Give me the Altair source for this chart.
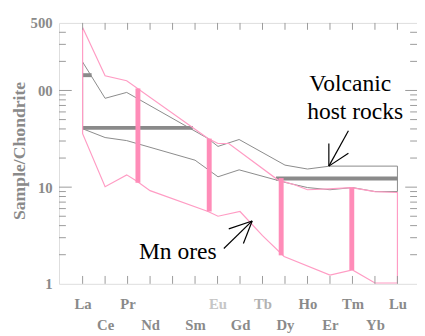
import altair as alt
import pandas as pd

# ---------------- data ----------------
elements = ["La", "Ce", "Pr", "Nd", "Pm", "Sm", "Eu", "Gd", "Tb", "Dy", "Ho", "Er", "Tm", "Yb", "Lu"]
element_pos = list(range(1, 16))
hidden_labels = ["Pm"]

# Mn ores field (upper and lower envelopes)
mn_upper_x = [1, 2, 2.96, 6.58, 7.02, 7.5, 9.68, 10.42, 11, 11.95, 12.95, 14, 15]
mn_upper_v = [447, 142, 126, 31.8, 28.3, 28.3, 11.9, 10.6, 9.4, 9.6, 9.9, 9.0, 8.8]
mn_lower_x = [1, 2, 2.96, 3.4, 4, 6.58, 7.02, 8, 9, 9.96, 12, 13, 14, 15]
mn_lower_v = [35.8, 10.1, 13.4, 11.6, 9.2, 5.6, 5.0, 5.6, 3.15, 1.92, 1.23, 1.39, 1.02, 1.02]

# Volcanic host rocks field
vh_upper_x = [1, 2, 2.96, 6.58, 7.02, 7.96, 10, 11, 12, 15]
vh_upper_v = [197, 83, 95.5, 31.8, 26.4, 31.1, 16.9, 15.4, 16.5, 16.5]
vh_lower_x = [1, 2, 2.96, 6.0, 7.02, 7.96, 10, 11, 12, 13, 14, 15]
vh_lower_v = [40.2, 32.6, 30.3, 19.0, 12.8, 15.1, 11.2, 9.9, 9.4, 9.9, 9.0, 9.0]

# thick grey average segments
thick_x1 = [1, 1, 9.6]
thick_x2 = [1.4, 5.9, 15]
thick_v = [144, 41, 12.3]

# thick pink range bars
bar_x = [3.46, 6.63, 9.83, 12.97]
bar_top = [105, 31.8, 12.4, 9.9]
bar_bottom = [11.1, 5.6, 1.97, 1.39]

# annotations
note_text = ["Volcanic", "host rocks", "Mn ores"]
note_x = [12.9, 13.12, 5.23]
note_v = [97.7, 50.8, 1.79]

# arrows: shaft (tail -> tip) and two head strokes (tip -> end)
arrow_x1 = [12.82, 11.95, 11.95, 7.28, 8.54, 8.54]
arrow_v1 = [38.4, 16.5, 16.5, 2.32, 4.47, 4.47]
arrow_x2 = [11.95, 11.95, 12.82, 8.54, 7.5, 8.15]
arrow_v2 = [16.5, 28.3, 22.4, 4.47, 3.70, 2.61]

y_label_values = [1, 10, 100, 500]
y_minor_ticks = [2, 3, 4, 5, 6, 7, 8, 9, 20, 30, 40, 50, 60, 70, 80, 90, 200, 300, 400]
y_major_ticks = [10, 100]

# ---------------- styling ----------------
W, H = 365, 266
GREY = "#8a8a8a"
FRAME = "#9a9a9a"
PINK = "#ff9cc4"
PINK_BAR = "#ff8cb8"
SERIF = "'Liberation Serif', 'DejaVu Serif', serif"

xscale = alt.Scale(domain=[-0.05, 15.87], nice=False, zero=False)
yscale = alt.Scale(type="log", domain=[1, 500], nice=False)


def polygon(ux, uv, lx, lv):
    xs = list(ux) + list(reversed(lx)) + [ux[0]]
    vs = list(uv) + list(reversed(lv)) + [uv[0]]
    return pd.DataFrame({"x": xs, "v": vs, "o": list(range(len(xs)))})


mn_df = polygon(mn_upper_x, mn_upper_v, mn_lower_x, mn_lower_v)
vh_df = polygon(vh_upper_x, vh_upper_v, vh_lower_x, vh_lower_v)

names_js = "[''," + ",".join(
    "''" if e in hidden_labels else f"'{e}'" for e in elements) + "]"
label_expr = (f"datum.value % 2 == 1 ? {names_js}[datum.value] : "
              f"['', {names_js}[datum.value]]")

x_axis = alt.Axis(
    values=element_pos, labelExpr=label_expr, ticks=False, domain=False, grid=False,
    title=None, labelAngle=0, labelFont=SERIF, labelFontSize=15, labelFontWeight="bold",
    labelBaseline="top", labelLineHeight=22, labelPadding=13, labelOverlap=False,
    labelFlush=False, labelBound=False,
    labelColor={"condition": [{"test": "datum.value == 7", "value": "#c6c6c6"},
                              {"test": "datum.value == 9", "value": "#b2b2b2"}],
                "value": GREY},
)
y_axis = alt.Axis(
    values=y_label_values, labelExpr="datum.value == 100 ? '00' : format(datum.value, 'd')",
    ticks=False, domain=False, grid=False, labelFont=SERIF, labelFontSize=15,
    labelFontWeight="bold", labelColor=GREY, labelPadding=7, labelOverlap=False,
    title="Sample/Chondrite", titleFont=SERIF, titleFontSize=18, titleFontWeight="bold",
    titleColor=GREY, titleX=-31, titleY=130,
)


def X(field):
    return alt.X(field, scale=xscale, axis=x_axis)


def Y(field):
    return alt.Y(field, scale=yscale, axis=y_axis)


host = alt.Chart(vh_df).mark_line(color=GREY, strokeWidth=1).encode(
    x=X("x:Q"), y=Y("v:Q"), order="o:Q")

thick = alt.Chart(pd.DataFrame({"x": thick_x1, "x2": thick_x2, "v": thick_v})).mark_rule(
    color=GREY, strokeWidth=4).encode(x=X("x:Q"), x2="x2:Q", y=Y("v:Q"))

mn = alt.Chart(mn_df).mark_line(color=PINK, strokeWidth=1.2).encode(
    x=X("x:Q"), y=Y("v:Q"), order="o:Q")

bars = alt.Chart(pd.DataFrame({"x": bar_x, "v": bar_top, "v2": bar_bottom})).mark_rule(
    color=PINK_BAR, strokeWidth=5).encode(x=X("x:Q"), y=Y("v:Q"), y2="v2:Q")

arrows = alt.Chart(pd.DataFrame({"x": arrow_x1, "v": arrow_v1,
                                 "x2": arrow_x2, "v2": arrow_v2})).mark_rule(
    color="black", strokeWidth=1.2).encode(x=X("x:Q"), x2="x2:Q", y=Y("v:Q"), y2="v2:Q")

notes = alt.Chart(pd.DataFrame({"x": note_x, "v": note_v, "t": note_text})).mark_text(
    font=SERIF, fontSize=24, color="black", align="center", baseline="alphabetic").encode(
    x=X("x:Q"), y=Y("v:Q"), text="t:N")

# inner tick marks
ydf_minor = pd.DataFrame({"v": y_minor_ticks})
ydf_major = pd.DataFrame({"v": y_major_ticks})
xdf = pd.DataFrame({"x": element_pos})

left_minor = alt.Chart(ydf_minor).mark_rule(color=FRAME).encode(
    x=alt.value(0), x2=alt.value(7), y=Y("v:Q"))
left_major = alt.Chart(ydf_major).mark_rule(color=FRAME).encode(
    x=alt.value(0), x2=alt.value(13), y=Y("v:Q"))
right_minor = alt.Chart(ydf_minor).mark_rule(color=FRAME).encode(
    x=alt.value(W - 7), x2=alt.value(W), y=Y("v:Q"))
right_major = alt.Chart(ydf_major).mark_rule(color=FRAME).encode(
    x=alt.value(W - 12), x2=alt.value(W), y=Y("v:Q"))
top_ticks = alt.Chart(xdf).mark_rule(color=FRAME).encode(
    x=X("x:Q"), y=alt.value(0), y2=alt.value(7))
bottom_ticks = alt.Chart(xdf).mark_rule(color=FRAME).encode(
    x=X("x:Q"), y=alt.value(H - 8), y2=alt.value(H))

chart = alt.layer(
    host, thick, mn, bars, arrows, notes,
    left_minor, left_major, right_minor, right_major, top_ticks, bottom_ticks,
).properties(
    width=W, height=H,
    autosize=alt.AutoSizeParams(type="none"),
    padding={"left": 52, "top": 12, "right": 0, "bottom": 50},
).configure_view(stroke=FRAME, strokeWidth=1).configure(background="white")

chart.save("out.html", embed_options={"renderer": "svg", "actions": False})
